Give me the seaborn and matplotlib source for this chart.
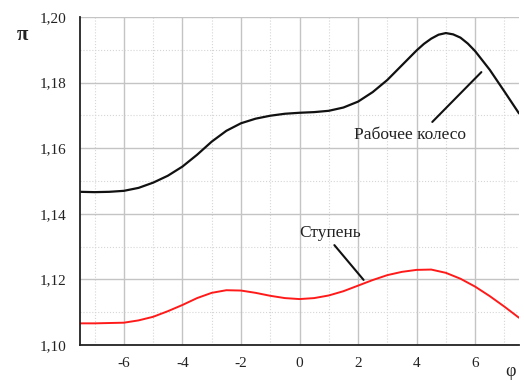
import numpy as np
import pandas as pd
import seaborn as sns
import matplotlib
matplotlib.use("Agg")
import matplotlib.pyplot as plt
from matplotlib.ticker import FixedLocator, MultipleLocator

phi_wheel = [-7.5, -7.0, -6.5, -6.0, -5.5, -5.0, -4.5, -4.0, -3.5, -3.0, -2.5, -2.0,
             -1.5, -1.0, -0.5, 0.0, 0.5, 1.0, 1.5, 2.0, 2.5, 3.0, 3.5, 4.0, 4.25,
             4.5, 4.75, 5.0, 5.25, 5.5, 5.75, 6.0, 6.5, 7.0, 7.5]
wheel = [1.1467, 1.1466, 1.1467, 1.1470, 1.1479, 1.1495, 1.1516, 1.1544, 1.1580,
         1.1620, 1.1653, 1.1676, 1.1690, 1.1699, 1.1705, 1.1708, 1.1710, 1.1714,
         1.1724, 1.1742, 1.1771, 1.1808, 1.1853, 1.1898, 1.1918, 1.1934, 1.1946,
         1.1951, 1.1947, 1.1937, 1.1919, 1.1896, 1.1839, 1.1773, 1.1706]

phi_stage = [-7.5, -7.0, -6.5, -6.0, -5.5, -5.0, -4.5, -4.0, -3.5, -3.0, -2.5, -2.0,
             -1.5, -1.0, -0.5, 0.0, 0.5, 1.0, 1.5, 2.0, 2.5, 3.0, 3.5, 4.0, 4.5,
             5.0, 5.5, 6.0, 6.5, 7.0, 7.5]
stage = [1.1066, 1.1066, 1.1067, 1.1068, 1.1075, 1.1086, 1.1103, 1.1122, 1.1143,
         1.1159, 1.1167, 1.1166, 1.1159, 1.1150, 1.1143, 1.1140, 1.1143, 1.1151,
         1.1164, 1.1181, 1.1198, 1.1213, 1.1223, 1.1229, 1.1230, 1.1220, 1.1202,
         1.1178, 1.1149, 1.1117, 1.1083]

x_ticks = [-6, -4, -2, 0, 2, 4, 6]
x_labels = ["-6", "-4", "-2", "0", "2", "4", "6"]
y_ticks = [1.10, 1.12, 1.14, 1.16, 1.18, 1.20]
y_labels = ["1,10", "1,12", "1,14", "1,16", "1,18", "1,20"]

sns.set_style("white")
plt.rcParams["font.family"] = ["Liberation Serif", "DejaVu Serif"]

df_w = pd.DataFrame({"phi": phi_wheel, "pi": wheel})
df_s = pd.DataFrame({"phi": phi_stage, "pi": stage})

fig = plt.figure(figsize=(5.24, 3.81), dpi=100)
ax = fig.add_axes([0.1527, 0.0945, 0.8378, 0.8609])

sns.lineplot(data=df_w, x="phi", y="pi", ax=ax, color="#111111", lw=1.6,
             solid_joinstyle="round", solid_capstyle="round")
sns.lineplot(data=df_s, x="phi", y="pi", ax=ax, color="#ff1a1a", lw=1.4,
             solid_joinstyle="round", solid_capstyle="round")

ax.set_xlim(-7.5, 7.5)
ax.set_ylim(1.10, 1.20)
ax.xaxis.set_major_locator(FixedLocator(x_ticks))
ax.set_xticklabels(x_labels)
ax.xaxis.set_minor_locator(MultipleLocator(1))
ax.yaxis.set_major_locator(FixedLocator(y_ticks))
ax.set_yticklabels(y_labels)
ax.yaxis.set_minor_locator(MultipleLocator(0.01))

ax.grid(which="major", color="#c4c4c4", lw=1.0, ls="-")
ax.grid(which="minor", color="#d6d6d6", lw=0.8, ls=":")
ax.set_axisbelow(True)

for s in ["top", "right"]:
    ax.spines[s].set_visible(False)
for s in ["left", "bottom"]:
    ax.spines[s].set_color("#222222")
    ax.spines[s].set_linewidth(1.3)

ax.tick_params(axis="y", which="major", direction="out", length=8, width=1.2,
               color="#222222", labelsize=11, pad=2, labelcolor="#222222")
ax.tick_params(axis="y", which="minor", direction="out", length=4, width=1.2,
               color="#222222")
ax.tick_params(axis="x", which="major", direction="inout", length=6, width=1.2,
               color="#222222", labelsize=11, pad=6, labelcolor="#222222")
ax.tick_params(axis="x", which="minor", direction="inout", length=5, width=1.2,
               color="#222222")
ax.set_xlabel("")
ax.set_ylabel("")

fig.text(22 / 524, 1 - 35 / 381, "π", fontsize=15, ha="center", va="center",
         fontweight="bold", color="#222222")
fig.text(510 / 524, 1 - 372 / 381, "φ", fontsize=13, ha="center", va="center",
         color="#222222")

ax.annotate("", xy=(6.28, 1.1838), xytext=(4.47, 1.1674),
            arrowprops=dict(arrowstyle="-", color="#111111", lw=1.5))
ax.text(3.79, 1.1640, "Рабочее колесо", ha="center", va="center",
        fontsize=12.5, color="#222222")
ax.annotate("", xy=(2.25, 1.1192), xytext=(1.13, 1.1311),
            arrowprops=dict(arrowstyle="-", color="#111111", lw=1.5))
ax.text(1.06, 1.1341, "Ступень", ha="center", va="center",
        fontsize=12.5, color="#222222")

fig.savefig("out.png", dpi=100)
